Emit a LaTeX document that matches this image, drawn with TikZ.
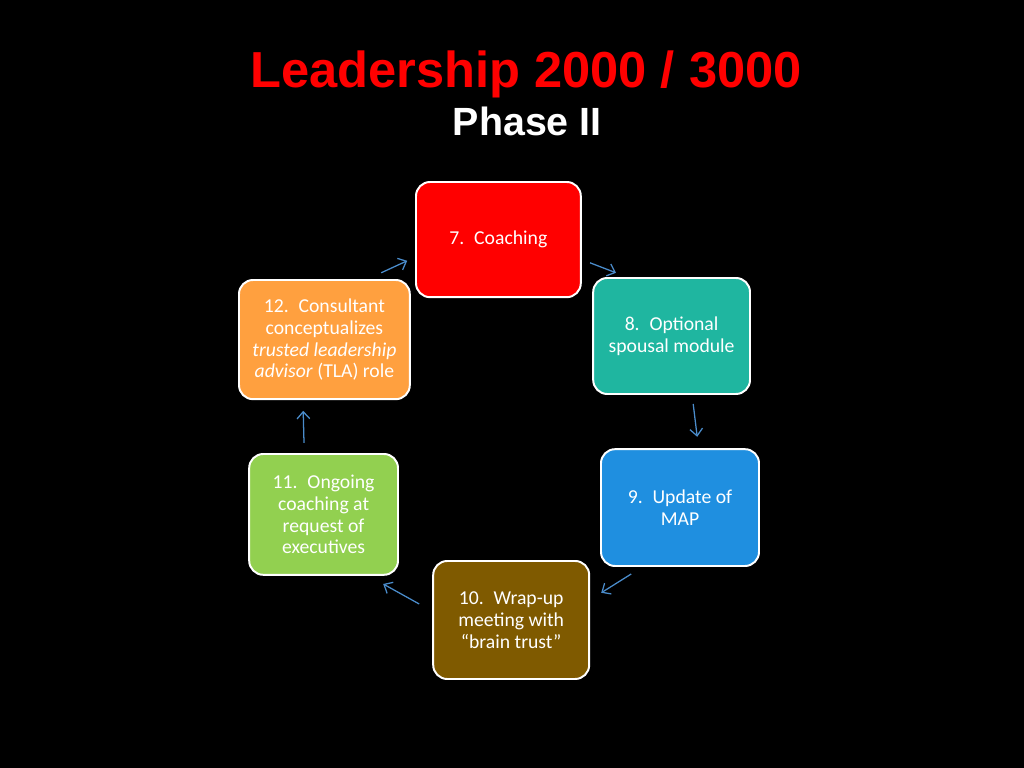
\documentclass[tikz,border=0pt]{standalone}
\usepackage{fontspec}
\setmainfont{Carlito}
\newfontfamily\titlefont{Liberation Sans}
\usepackage{tikz}
\usetikzlibrary{arrows.meta}

\definecolor{boxred}{HTML}{FF0000}
\definecolor{boxteal}{HTML}{1FB6A0}
\definecolor{boxblue}{HTML}{1F8FE0}
\definecolor{boxbrown}{HTML}{7F5A00}
\definecolor{boxgreen}{HTML}{92D050}
\definecolor{boxorange}{HTML}{FFA03F}
\definecolor{arrowblue}{HTML}{4A8CCB}

\tikzset{
  stagebox/.style={draw=white, line width=1.4pt, rounded corners=10pt, align=center,
    text=white, font=\fontsize{14}{15.6}\selectfont, inner sep=2pt},
  cyclearrow/.style={-{Straight Barb[length=5pt,width=9pt]}, arrowblue, line width=0.9pt}
}

\begin{document}
\begin{tikzpicture}
% black slide behind everything
\fill[black] (0,0) rectangle (25.6,19.2);
\useasboundingbox (0,0) rectangle (25.6,19.2);
% heading
\node[text=red, font=\titlefont\bfseries\fontsize{36}{40}\selectfont] (title) at (13.15,17.35) {Leadership 2000 / 3000};
\node[text=white, font=\titlefont\bfseries\fontsize{28}{30}\selectfont] (phase) at (13.18,16.17) {Phase II};
% the six stages, clockwise from the top
\node[stagebox, fill=boxred, minimum width=4.12cm, minimum height=2.88cm] (coaching) at (12.46,13.21) {7.\enspace Coaching};
\node[stagebox, fill=boxteal, minimum width=3.92cm, minimum height=2.9cm] (spousal) at (16.79,10.8) {8.\enspace Optional\\spousal module};
\node[stagebox, fill=boxblue, minimum width=3.95cm, minimum height=2.92cm] (update) at (17.0,6.51) {9.\enspace Update of\\MAP};
\node[stagebox, fill=boxbrown, minimum width=3.9cm, minimum height=2.95cm] (wrapup) at (12.78,3.7) {10.\enspace Wrap-up\\meeting with\\``brain trust''};
\node[stagebox, fill=boxgreen, minimum width=3.72cm, minimum height=3.02cm] (ongoing) at (8.09,6.34) {11.\enspace Ongoing\\coaching at\\request of\\executives};
\node[stagebox, fill=boxorange, minimum width=4.27cm, minimum height=2.98cm] (consultant) at (8.11,10.71) {12.\enspace Consultant\\conceptualizes\\\textit{trusted leadership}\\\textit{advisor} (TLA) role};
% ends of the short arrows in the gaps
\coordinate (a1) at (9.53,12.38);  \coordinate (b1) at (10.18,12.68);
\coordinate (a2) at (14.75,12.63); \coordinate (b2) at (15.4,12.38);
\coordinate (a3) at (17.33,9.1);   \coordinate (b3) at (17.43,8.28);
\coordinate (a4) at (15.78,4.85);  \coordinate (b4) at (15.03,4.38);
\coordinate (a5) at (10.48,4.1);   \coordinate (b5) at (9.58,4.6);
\coordinate (a6) at (7.6,8.13);    \coordinate (b6) at (7.58,8.93);
\draw[cyclearrow] (a1) -- (b1);
\draw[cyclearrow] (a2) -- (b2);
\draw[cyclearrow] (a3) -- (b3);
\draw[cyclearrow] (a4) -- (b4);
\draw[cyclearrow] (a5) -- (b5);
\draw[cyclearrow] (a6) -- (b6);
\end{tikzpicture}
\end{document}
